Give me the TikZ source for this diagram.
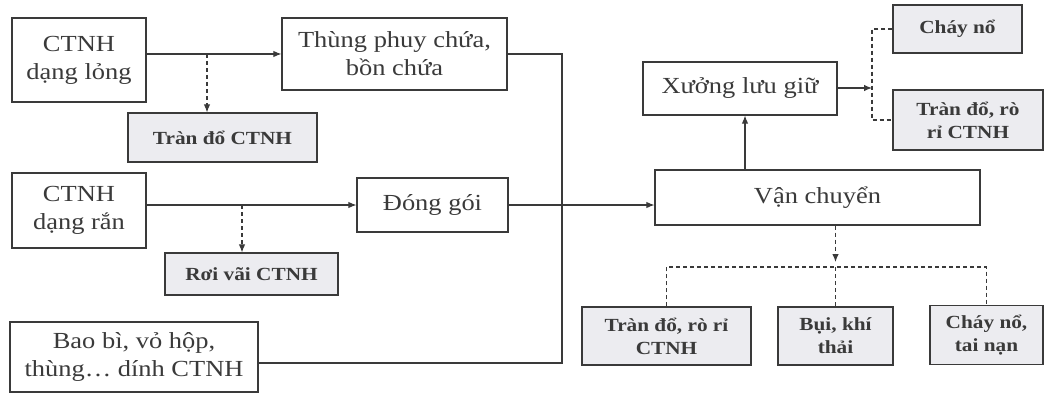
\documentclass[tikz,border=0pt]{standalone}
\usepackage{fontspec}
\setmainfont{Liberation Serif}[FakeStretch=1.15]
\usetikzlibrary{arrows.meta}
\definecolor{ink}{HTML}{3A3A3A}
\definecolor{shade}{HTML}{ECECF0}
\tikzset{
  box/.style={draw=ink, line width=1.2pt, text=ink, align=center, inner sep=0pt,
    font=\fontsize{23}{28}\selectfont},
  hbox/.style={box, fill=shade, font=\bfseries\fontsize{18.5}{23}\selectfont},
  conn/.style={draw=ink, line width=1.1pt},
  arr/.style={conn, -{Latex[length=8pt,width=6.5pt]}},
  dsh/.style={conn, dash pattern=on 4pt off 3pt},
}
\begin{document}
\begin{tikzpicture}[x=1pt,y=-1pt]
\useasboundingbox (0,0) rectangle (1044,396);
% main boxes
\node[box, minimum width=134pt, minimum height=84pt] (lng) at (79,60) {CTNH\\dạng lỏng};
\node[box, minimum width=225pt, minimum height=72pt] (thung) at (394.5,54) {Thùng phuy chứa,\\bồn chứa};
\node[box, minimum width=134pt, minimum height=75pt] (ran) at (79,210.5) {CTNH\\dạng rắn};
\node[box, minimum width=151pt, minimum height=54pt] (dong) at (432.5,205) {Đóng gói};
\node[box, minimum width=248pt, minimum height=70pt] (bao) at (134,357) {Bao bì, vỏ hộp,\\thùng… dính CTNH};
\node[box, minimum width=325pt, minimum height=55pt] (van) at (817.5,197.5) {Vận chuyển};
\node[box, minimum width=194pt, minimum height=53pt] (xuong) at (740,88.5) {Xưởng lưu giữ};
% hazard boxes
\node[hbox, minimum width=189pt, minimum height=49pt] (tran1) at (222.5,137.5) {Tràn đổ CTNH};
\node[hbox, minimum width=173pt, minimum height=42pt] (roi) at (251.5,274) {Rơi vãi CTNH};
\node[hbox, minimum width=129pt, minimum height=48pt] (chay1) at (957.5,29) {Cháy nổ};
\node[hbox, minimum width=150pt, minimum height=60pt] (tran2) at (968,120) {Tràn đổ, rò\\rỉ CTNH};
\node[hbox, minimum width=169pt, minimum height=58pt] (tran3) at (666.5,336) {Tràn đổ, rò rỉ\\CTNH};
\node[hbox, minimum width=115pt, minimum height=58pt] (bui) at (835.5,336) {Bụi, khí\\thải};
\node[hbox, minimum width=113pt, minimum height=59pt] (chay2) at (986.5,335) {Cháy nổ,\\tai nạn};
% helper coordinates
\coordinate (d1) at (207,54);
\coordinate (d2) at (242,205);
\coordinate (jr) at (562,0);
\coordinate (k) at (872,88);
\coordinate (h) at (0,267);
\coordinate (ah) at (0,262);
% connectors
\draw[arr] (thung.west -| lng.east) -- (thung.west);
\draw[dsh, -{Latex[length=8pt,width=6.5pt]}] (d1) -- (d1 |- tran1.north);
\draw[arr] (ran.east |- dong.west) -- (dong.west);
\draw[dsh, -{Latex[length=8pt,width=6.5pt]}] (d2) -- (d2 |- roi.north);
\draw[conn] (thung.east) -| (jr |- 0,363) -- (bao.east |- 0,363);
\draw[arr] (dong.east) -- (dong.east -| van.west);
\draw[arr] (van.north -| 745,0) -- (xuong.south -| 745,0);
\draw[arr] (xuong.east |- k) -- (k);
\draw[dsh] (chay1.west) -| (k) |- (tran2.west);
\draw[dsh, -{Latex[length=8pt,width=6.5pt]}] (van.south -| bui.north) -- (bui.north |- ah);
\draw[dsh] (tran3.north) -- (tran3.north |- h) -- (chay2.north |- h) -- (chay2.north);
\draw[dsh] (bui.north |- h) -- (bui.north);
\end{tikzpicture}
\end{document}
